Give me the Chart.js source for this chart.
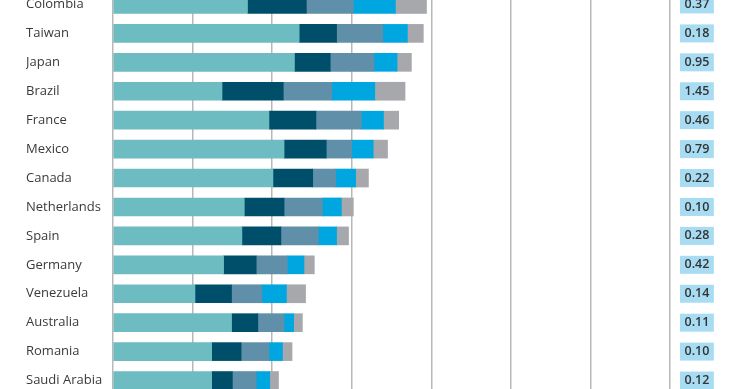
<!DOCTYPE html>
<html>
<head>
<meta charset="utf-8">
<script src="https://cdn.jsdelivr.net/npm/chart.js@4/dist/chart.umd.min.js"></script>
<style>
  html, body { margin: 0; padding: 0; background: #fff; overflow: hidden; }
  body { width: 740px; height: 389px; position: relative; }
  #wrap { position: absolute; left: 0; top: -10px; width: 740px; height: 405px; }
</style>
</head>
<body>
<div id="wrap"><canvas id="chart"></canvas></div>
<script>
const countries = ["Colombia", "Taiwan", "Japan", "Brazil", "France", "Mexico", "Canada",
  "Netherlands", "Spain", "Germany", "Venezuela", "Australia", "Romania", "Saudi Arabia"];

const series1 = [16.9, 23.4, 22.8, 13.7, 19.6, 21.5, 20.1, 16.5, 16.2, 13.9, 10.3, 14.9, 12.4, 12.4];
const series2 = [7.4, 4.7, 4.5, 7.7, 5.9, 5.3, 5.0, 5.0, 4.9, 4.1, 4.6, 3.3, 3.7, 2.6];
const series3 = [5.9, 5.8, 5.5, 6.1, 5.7, 3.2, 2.9, 4.8, 4.7, 3.9, 3.8, 3.3, 3.5, 3.0];
const series4 = [5.3, 3.1, 2.9, 5.4, 2.8, 2.7, 2.5, 2.4, 2.3, 2.1, 3.1, 1.2, 1.7, 1.7];
const series5 = [3.9, 2.0, 1.8, 3.8, 1.9, 1.8, 1.6, 1.5, 1.5, 1.3, 2.4, 1.1, 1.2, 1.1];

const sideValues = ["0.37", "0.18", "0.95", "1.45", "0.46", "0.79", "0.22",
  "0.10", "0.28", "0.42", "0.14", "0.11", "0.10", "0.12"];

const colors = ["#6dbcc1", "#004f6a", "#5f8fa9", "#00a6df", "#a7a8ac"];

// no extra room around the axes, the plot fills the box
function noPad(scale) {
  scale.paddingTop = 0;
  scale.paddingBottom = 0;
  scale.paddingLeft = 0;
  scale.paddingRight = 0;
}

const ctx = document.getElementById("chart").getContext("2d");

new Chart(ctx, {
  type: "bar",
  data: {
    labels: countries,
    datasets: [series1, series2, series3, series4, series5].map((d, i) => ({
      label: "Series " + (i + 1),
      data: d,
      backgroundColor: colors[i],
      borderWidth: 0,
      barThickness: 18,
    })),
  },
  options: {
    indexAxis: "y",
    responsive: true,
    maintainAspectRatio: false,
    animation: false,
    layout: { padding: { left: 26, right: 0, top: 0, bottom: 0 } },
    plugins: {
      legend: { display: false },
      tooltip: { enabled: false },
    },
    scales: {
      x: {
        stacked: true,
        min: 0,
        max: 70,
        ticks: { display: false, stepSize: 10 },
        grid: { color: "#b8b8b8", lineWidth: 1.5, drawTicks: false },
        border: { display: false },
        afterFit: (scale) => { scale.height = 0; noPad(scale); },
      },
      y: {
        stacked: true,
        offset: true,
        grid: { display: false },
        border: { display: false },
        ticks: {
          crossAlign: "far",
          color: "#3a3a3a",
          padding: 0,
          font: { family: "Open Sans", size: 13 },
        },
        afterFit: (scale) => { scale.width = 87; noPad(scale); },
      },
      y2: {
        type: "category",
        position: "right",
        labels: sideValues,
        offset: true,
        grid: { display: false, drawTicks: false },
        border: { display: false },
        ticks: {
          color: "#333",
          padding: 14.5,
          font: { family: "Open Sans", size: 12.5, weight: "600" },
          showLabelBackdrop: true,
          backdropColor: "#a7dcf3",
          backdropPadding: { top: 1.5, bottom: 1.5, left: 4.5, right: 4.5 },
        },
        afterFit: (scale) => { scale.width = 70; noPad(scale); },
      },
    },
  },
});
</script>
</body>
</html>
